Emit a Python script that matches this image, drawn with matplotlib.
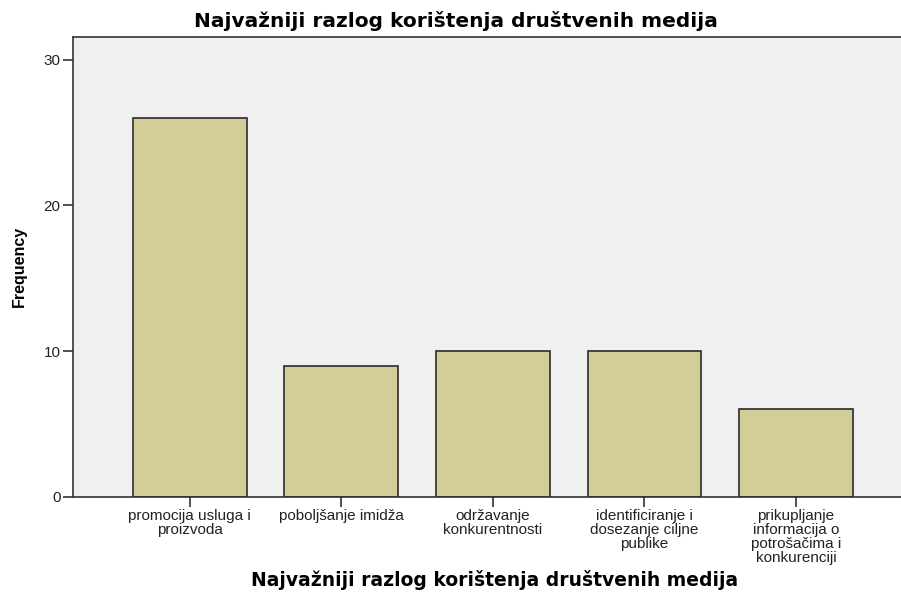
import matplotlib
matplotlib.use("Agg")
import matplotlib.pyplot as plt

# Data
categories = [
    "promocija usluga i\nproizvoda",
    "poboljšanje imidža",
    "održavanje\nkonkurentnosti",
    "identificiranje i\ndosezanje ciljne\npublike",
    "prikupljanje\ninformacija o\npotrošačima i\nkonkurenciji",
]
frequency = [26, 9, 10, 10, 6]
y_ticks = [0, 10, 20, 30]

title = "Najvažniji razlog korištenja društvenih medija"

fig = plt.figure(figsize=(9.01, 5.92), dpi=100)
ax = fig.add_axes([0.081, 0.1613, 0.932, 0.7762])
ax.set_facecolor("#f0f0f0")

x = list(range(len(categories)))
ax.bar(x, frequency, width=0.75, color="#d3ce97", edgecolor="#2b2b2b", linewidth=1.2, zorder=2)

ax.set_xlim(-0.77, 4.77)
ax.set_ylim(0, 31.58)
ax.set_xticks(x)
ax.set_xticklabels(categories, fontsize=11, family="Liberation Sans", linespacing=1.0, color="#222222")
ax.set_yticks(y_ticks)
ax.set_yticklabels([str(v) for v in y_ticks], fontsize=11, family="Liberation Sans", color="#222222")
ax.tick_params(axis="both", direction="out", length=7, width=1.2, color="#333333", pad=2)

for s in ax.spines.values():
    s.set_color("#333333")
    s.set_linewidth(1.2)

ax.set_ylabel("Frequency", fontsize=11.5, fontweight="bold", family="Liberation Sans", labelpad=12)
fig.text(0.549, 0.020, title, ha="center", va="center", fontsize=13.5, fontweight="bold", family="DejaVu Sans")
fig.text(0.506, 0.964, title, ha="center", va="center", fontsize=14.5, fontweight="bold", family="DejaVu Sans")

plt.savefig("out.png", dpi=100)
